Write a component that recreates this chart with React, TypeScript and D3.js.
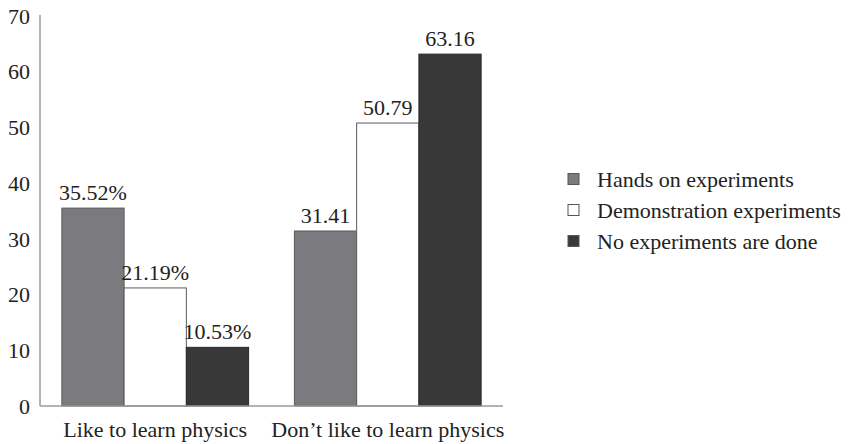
import React from "react";
import * as d3 from "d3";

const categories = ["Like to learn physics", "Don\u2019t like to learn physics"];
const series = ["Hands on experiments", "Demonstration experiments", "No experiments are done"];
const values = [
  [35.52, 21.19, 10.53],
  [31.41, 50.79, 63.16],
];
const valueLabels = [
  ["35.52%", "21.19%", "10.53%"],
  ["31.41", "50.79", "63.16"],
];
const yTicks = [0, 10, 20, 30, 40, 50, 60, 70];
const colors = ["#7b7b7f", "#ffffff", "#383838"];

const W = 849;
const H = 444;
const FONT = "'Liberation Serif', 'Times New Roman', serif";
const FS = 22;

const App: React.FC = () => {
  const x0 = d3.scaleBand<string>()
    .domain(categories)
    .range([40, 503])
    .paddingInner(0.197)
    .paddingOuter(0.094);
  const x1 = d3.scaleBand<string>()
    .domain(series)
    .range([0, x0.bandwidth()]);
  const y = d3.scaleLinear().domain([0, 70]).range([406, 16]);

  return (
    <svg width={W} height={H} style={{ position: "absolute", left: 0, top: 0, background: "#fff" }}>
      <g fontFamily={FONT} fill="#222">
        {yTicks.map((t) => (
          <text key={t} x={30} y={y(t)} dy="0.35em" textAnchor="end" fontSize={FS}>
            {t}
          </text>
        ))}
      </g>
      {categories.map((c, ci) => (
        <g key={c} transform={`translate(${x0(c)},0)`}>
          {series.map((s, si) => {
            const v = values[ci][si];
            const bx = x1(s)!;
            return (
              <g key={s}>
                <rect
                  x={bx}
                  y={y(v)}
                  width={x1.bandwidth()}
                  height={y(0) - y(v)}
                  fill={colors[si]}
                  stroke={si === 2 ? "#2a2a2a" : "#5a5a5a"}
                  strokeWidth={1}
                />
                <text
                  x={bx + x1.bandwidth() / 2}
                  y={y(v) - 8}
                  textAnchor="middle"
                  fontFamily={FONT}
                  fontSize={FS}
                  fill="#222"
                >
                  {valueLabels[ci][si]}
                </text>
              </g>
            );
          })}
          <text
            x={x0.bandwidth() / 2}
            y={437}
            textAnchor="middle"
            fontFamily={FONT}
            fontSize={FS}
            fill="#222"
          >
            {c}
          </text>
        </g>
      ))}
      <line x1={40} x2={40} y1={15} y2={406} stroke="#9a9a9a" strokeWidth={1.5} />
      <line x1={40} x2={503} y1={406} y2={406} stroke="#9a9a9a" strokeWidth={1.5} />
      {series.map((s, i) => (
        <g key={s} transform={`translate(568,${179 + i * 31})`}>
          <rect x={0} y={-5.5} width={11} height={11} fill={colors[i]} stroke="#555" strokeWidth={1} />
          <text x={29} y={0} dy="0.35em" fontFamily={FONT} fontSize={FS} fill="#222">
            {s}
          </text>
        </g>
      ))}
    </svg>
  );
};

export default App;
